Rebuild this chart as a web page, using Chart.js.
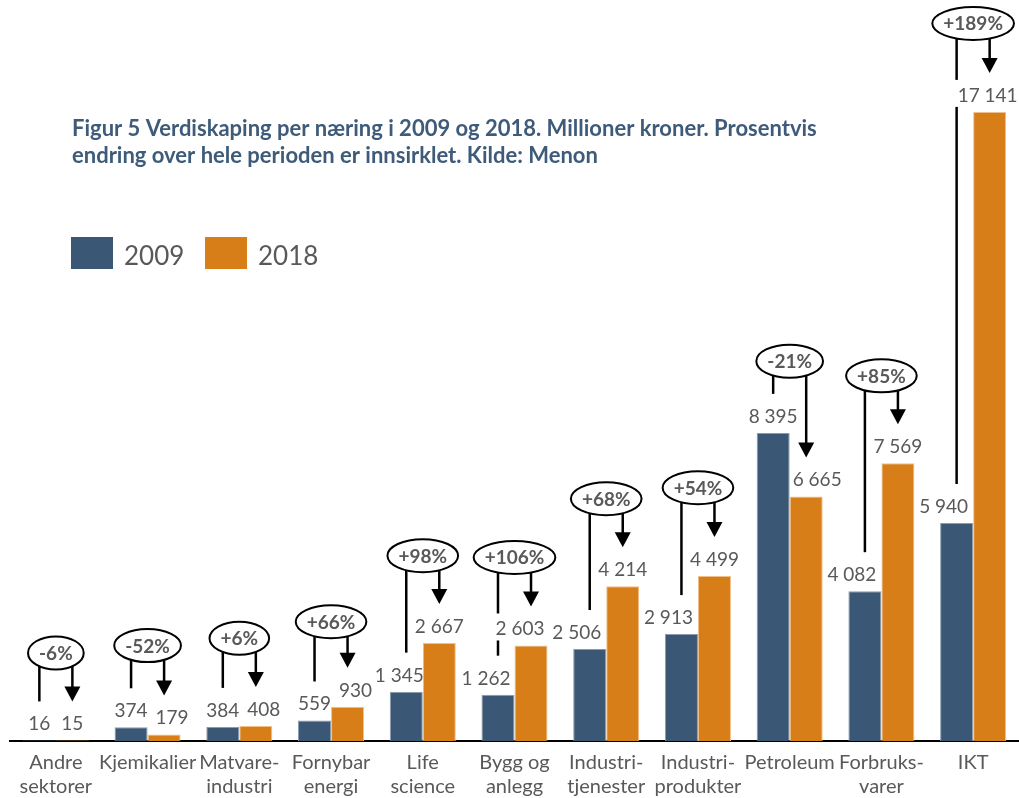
<!DOCTYPE html>
<html lang="no">
<head>
<meta charset="utf-8">
<title>Verdiskaping per næring</title>
<script src="https://cdn.jsdelivr.net/npm/chart.js@4"></script>
<style>
  html, body { margin: 0; padding: 0; background: #fff; }
  #wrap { width: 1019px; height: 798px; position: relative; }
</style>
</head>
<body>
<div id="wrap"><canvas id="verdiChart"></canvas></div>
<script>
const categories = [
  ["Andre", "sektorer"], "Kjemikalier", ["Matvare-", "industri"], ["Fornybar", "energi"],
  ["Life", "science"], ["Bygg og", "anlegg"], ["Industri-", "tjenester"], ["Industri-", "produkter"],
  "Petroleum", ["Forbruks-", "varer"], "IKT"
];
const seriesNames = ["2009", "2018"];
const values2009 = [16, 374, 384, 559, 1345, 1262, 2506, 2913, 8395, 4082, 5940];
const values2018 = [15, 179, 408, 930, 2667, 2603, 4214, 4499, 6665, 7569, 17141];

// where each change bubble sits, in mill. kr on the value axis
const bubbleLevels = [2400, 2600, 2800, 3250, 5050, 5000, 6600, 6900, 10350, 9950, 19550];
// sideways nudges (px) for value labels that would crowd the neighbouring bar
const labelShift2009 = [0, 0, 0, 0, -7, -12, -13, -13, 0, -13, -13];
const labelShift2018 = [0, 8, 8, 8, 0, -11, 0, 0, 11, 0, -2];

const BLUE = "#3a5775";
const ORANGE = "#d87e18";
const GREY = "#595959";
const FONT = "Lato, 'Open Sans', sans-serif";

function fmt(n) {
  return String(n).replace(/\B(?=(\d{3})+(?!\d))/g, " ");
}

function changeText(a, b) {
  const pct = Math.round((b / a - 1) * 100);
  return (pct > 0 ? "+" : "") + pct + "%";
}

const titleLines = [
  "Figur 5 Verdiskaping per næring i 2009 og 2018. Millioner kroner. Prosentvis",
  "endring over hele perioden er innsirklet. Kilde: Menon"
];

const shifts = [labelShift2009, labelShift2018];

const bubblePlugin = {
  id: "changeBubbles",
  beforeDatasetsDraw(chart) {
    const ctx = chart.ctx;
    const yScale = chart.scales.y;
    const m0 = chart.getDatasetMeta(0);
    const m1 = chart.getDatasetMeta(1);
    ctx.save();
    ctx.strokeStyle = "#000";
    ctx.fillStyle = "#000";
    ctx.lineWidth = 2.5;
    categories.forEach((c, i) => {
      const x0 = m0.data[i].x;
      const x1 = m1.data[i].x;
      const cy = yScale.getPixelForValue(bubbleLevels[i]);
      const end0 = m0.data[i].y - 39;
      const tip = m1.data[i].y - 39;
      ctx.beginPath();
      ctx.moveTo(x0, cy);
      ctx.lineTo(x0, end0);
      ctx.stroke();
      ctx.beginPath();
      ctx.moveTo(x1, cy);
      ctx.lineTo(x1, tip - 12);
      ctx.stroke();
      ctx.beginPath();
      ctx.moveTo(x1 - 8, tip - 15);
      ctx.lineTo(x1 + 8, tip - 15);
      ctx.lineTo(x1, tip);
      ctx.closePath();
      ctx.fill();
    });

    // white boxes behind the value labels cut the connector lines
    ctx.font = "19px " + FONT;
    ctx.fillStyle = "#fff";
    [m0, m1].forEach((meta, d) => {
      const vals = d === 0 ? values2009 : values2018;
      meta.data.forEach((bar, i) => {
        const w = ctx.measureText(fmt(vals[i])).width + 10;
        const base = bar.y - 10;
        const cx = bar.x + shifts[d][i];
        ctx.fillRect(cx - w / 2, base - 22, w, 27);
      });
    });
    ctx.restore();
  },
  afterDatasetsDraw(chart) {
    const ctx = chart.ctx;
    const yScale = chart.scales.y;
    const m0 = chart.getDatasetMeta(0);
    const m1 = chart.getDatasetMeta(1);
    ctx.save();

    // value labels
    ctx.font = "19px " + FONT;
    ctx.fillStyle = GREY;
    ctx.textAlign = "center";
    ctx.textBaseline = "alphabetic";
    [m0, m1].forEach((meta, d) => {
      const vals = d === 0 ? values2009 : values2018;
      meta.data.forEach((bar, i) => {
        ctx.fillText(fmt(vals[i]), bar.x + shifts[d][i], bar.y - 10);
      });
    });

    // circled percentage change
    ctx.font = "bold 19px " + FONT;
    categories.forEach((c, i) => {
      const txt = changeText(values2009[i], values2018[i]);
      const cx = (m0.data[i].x + m1.data[i].x) / 2;
      const cy = yScale.getPixelForValue(bubbleLevels[i]);
      const rx = (ctx.measureText(txt).width + 22) / 2;
      const ry = 16.5;
      ctx.beginPath();
      ctx.ellipse(cx, cy, rx, ry, 0, 0, Math.PI * 2);
      ctx.fillStyle = "#fff";
      ctx.fill();
      ctx.lineWidth = 2;
      ctx.strokeStyle = "#000";
      ctx.stroke();
      ctx.fillStyle = GREY;
      ctx.fillText(txt, cx, cy + 7);
    });
    ctx.restore();
  },
  afterDraw(chart) {
    const ctx = chart.ctx;
    ctx.save();
    // figure caption
    ctx.font = "bold 22px " + FONT;
    ctx.fillStyle = "#3e5b7a";
    ctx.textAlign = "left";
    ctx.textBaseline = "alphabetic";
    ctx.fillText(titleLines[0], 72, 136);
    ctx.fillText(titleLines[1], 72, 163);

    // legend
    const colors = [BLUE, ORANGE];
    const boxX = [71, 205];
    ctx.font = "26px " + FONT;
    seriesNames.forEach((name, k) => {
      ctx.fillStyle = colors[k];
      ctx.fillRect(boxX[k], 237, 42, 32);
      ctx.fillStyle = GREY;
      ctx.fillText(name, boxX[k] + 53, 265);
    });
    ctx.restore();
  }
};

new Chart(document.getElementById("verdiChart"), {
  type: "bar",
  data: {
    labels: categories,
    datasets: [
      {
        label: seriesNames[0],
        data: values2009,
        backgroundColor: BLUE,
        borderColor: "#8a9bb0",
        borderWidth: 1,
        categoryPercentage: 0.72,
        barPercentage: 1.0
      },
      {
        label: seriesNames[1],
        data: values2018,
        backgroundColor: ORANGE,
        borderColor: "#efc08a",
        borderWidth: 1,
        categoryPercentage: 0.72,
        barPercentage: 1.0
      }
    ]
  },
  options: {
    responsive: true,
    maintainAspectRatio: false,
    animation: false,
    devicePixelRatio: 1,
    layout: { padding: { left: 10, right: -3, top: 0, bottom: -11 } },
    plugins: {
      legend: { display: false },
      tooltip: { enabled: false }
    },
    scales: {
      x: {
        grid: { display: false, drawTicks: false },
        border: { display: true, color: "#000", width: 2 },
        ticks: {
          color: GREY,
          font: { family: FONT, size: 20, lineHeight: 1.2 },
          padding: 10,
          autoSkip: false,
          maxRotation: 0,
          minRotation: 0
        }
      },
      y: {
        display: false,
        min: 0,
        max: 20190
      }
    }
  },
  plugins: [bubblePlugin]
});
</script>
</body>
</html>
